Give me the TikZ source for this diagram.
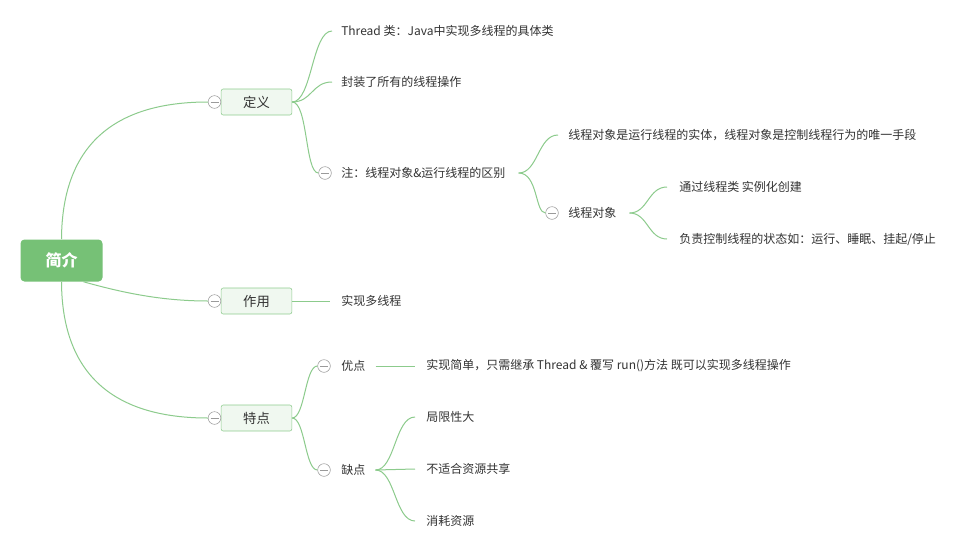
\documentclass[tikz,border=0pt]{standalone}
\usepackage{fontspec}
\setmainfont{Noto Sans CJK SC}
\usetikzlibrary{calc}
\definecolor{rootgreen}{HTML}{76C176}
\definecolor{topicfill}{HTML}{F0F8F0}
\definecolor{topicline}{HTML}{8FCC8F}
\definecolor{edgegreen}{HTML}{8CCB8C}
\definecolor{foldgray}{HTML}{9A9A9A}
\definecolor{textgray}{HTML}{333333}
\begin{document}
\begin{tikzpicture}[
    x=0.75pt, y=-0.75pt,
    rootbox/.style={
        fill=rootgreen,
        rounded corners=3pt,
        minimum width=61.5pt,
        minimum height=31.5pt,
        text=white,
        font=\fontsize{12}{14}\selectfont\bfseries
    },
    topicbox/.style={
        draw=topicline,
        fill=topicfill,
        rounded corners=1.5pt,
        minimum width=53pt,
        minimum height=19.5pt,
        text=textgray,
        font=\fontsize{10}{12}\selectfont
    },
    leaf/.style={
        anchor=west,
        inner xsep=0pt,
        inner ysep=2pt,
        text=textgray,
        font=\fontsize{9}{11}\selectfont
    },
    fold/.style={
        circle,
        draw=foldgray,
        fill=white,
        inner sep=0pt,
        minimum size=9.5pt,
        path picture={\draw[foldgray]
            ([xshift=-3pt]path picture bounding box.center) --
            ([xshift=3pt]path picture bounding box.center);}
    },
    edge/.style={draw=edgegreen, line width=0.75pt}
]

\fill[white] (0,0) rectangle (968,554);
\useasboundingbox (0,0) rectangle (968,554);

\node[rootbox] (jianjie) at (61.5,260.5) {简介};

\node[topicbox] (dingyi) at (256.5,102) {定义};
\node[topicbox] (zuoyong) at (256.5,301) {作用};
\node[topicbox] (tedian) at (256.5,418) {特点};
\node[fold] (dingyiF) at (214.5,102) {};
\node[fold] (zuoyongF) at (214.5,301) {};
\node[fold] (tedianF) at (214.5,418) {};

\node[leaf] (thread) at (341,31) {Thread 类：Java中实现多线程的具体类};
\node[leaf] (fengzhuang) at (341,82) {封装了所有的线程操作};
\node[fold] (zhuF) at (325,173) {};
\node[leaf] (zhu) at (341,173) {注：线程对象\&运行线程的区别};
\node[leaf] (shiti) at (568,135) {线程对象是运行线程的实体，线程对象是控制线程行为的唯一手段};
\node[fold] (duixiangF) at (552,213) {};
\node[leaf] (duixiang) at (568,213) {线程对象};
\node[leaf] (chuangjian) at (679,187) {通过线程类 实例化创建};
\node[leaf] (zhuangtai) at (679,239) {负责控制线程的状态如：运行、睡眠、挂起/停止};

\node[leaf] (duoxian) at (341,301) {实现多线程};

\node[fold] (youdianF) at (324,366) {};
\node[leaf] (youdian) at (341,366) {优点};
\node[leaf] (jiandan) at (426,366) {实现简单，只需继承 Thread \& 覆写 run()方法 既可以实现多线程操作};
\node[fold] (quedianF) at (324,470) {};
\node[leaf] (quedian) at (341,470) {缺点};
\node[leaf] (juxian) at (426,417) {局限性大};
\node[leaf] (gongxiang) at (426,469) {不适合资源共享};
\node[leaf] (xiaohao) at (426,521) {消耗资源};

\draw[edge] (jianjie.north) .. controls (62,140) and (120,102) .. (dingyiF.west);
\draw[edge] ($(jianjie.south)+(22,0)$) .. controls (120,292) and (160,301) .. (zuoyongF.west);
\draw[edge] (jianjie.south) .. controls (62,380) and (120,418) .. (tedianF.west);

\draw[edge] (dingyi.east) .. controls (312,102) and (312,31) .. ($(thread.west)+(-9,0)$);
\draw[edge] (dingyi.east) .. controls (312,102) and (312,82) .. ($(fengzhuang.west)+(-9,0)$);
\draw[edge] (dingyi.east) .. controls (308,102) and (305,173) .. (zhuF.west);

\draw[edge] ($(zhu.east)+(13,0)$) .. controls (538,173) and (538,135) .. ($(shiti.west)+(-10,0)$);
\draw[edge] ($(zhu.east)+(13,0)$) .. controls (538,173) and (535,213) .. (duixiangF.west);

\draw[edge] ($(duixiang.east)+(13,0)$) .. controls (648,213) and (648,187) .. ($(chuangjian.west)+(-12,0)$);
\draw[edge] ($(duixiang.east)+(13,0)$) .. controls (648,213) and (648,239) .. ($(zhuangtai.west)+(-12,0)$);

\draw[edge] (zuoyong.east) -- ($(duoxian.west)+(-11,0)$);

\draw[edge] (tedian.east) .. controls (305,418) and (305,366) .. (youdianF.west);
\draw[edge] (tedian.east) .. controls (305,418) and (305,470) .. (quedianF.west);
\draw[edge] ($(youdian.east)+(10,0)$) -- ($(jiandan.west)+(-11,0)$);

\draw[edge] ($(quedian.east)+(10,0)$) .. controls (395,470) and (395,417) .. ($(juxian.west)+(-11,0)$);
\draw[edge] ($(quedian.east)+(10,0)$) -- ($(gongxiang.west)+(-11,0)$);
\draw[edge] ($(quedian.east)+(10,0)$) .. controls (395,470) and (395,521) .. ($(xiaohao.west)+(-11,0)$);

\end{tikzpicture}
\end{document}
